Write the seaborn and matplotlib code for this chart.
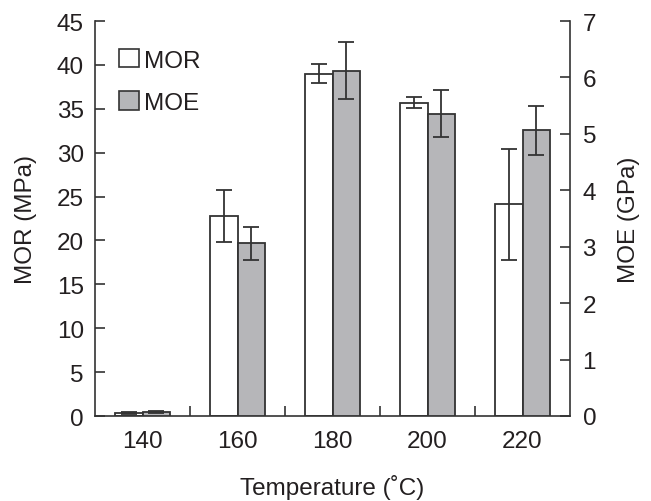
import numpy as np
import pandas as pd
import matplotlib
matplotlib.use("Agg")
import matplotlib.pyplot as plt
from matplotlib.patches import Patch
import seaborn as sns

temperatures = ["140", "160", "180", "200", "220"]
mor_values = [0.3, 22.8, 39.0, 35.7, 24.1]
mor_errors = [0.1, 3.0, 1.1, 0.6, 6.3]
moe_values = [0.07, 3.06, 6.12, 5.36, 5.06]
moe_errors = [0.02, 0.29, 0.50, 0.41, 0.43]
series = ["MOR", "MOE"]

sns.set_style("ticks")
plt.rcParams["font.family"] = ["Liberation Sans", "DejaVu Sans"]
TXT = "#231f20"
EDGE = "#333333"
GRAY = "#b5b6b9"
FS = 17.5

fig = plt.figure(figsize=(6.51, 5.02), dpi=100)
ax1 = fig.add_axes([95 / 651, 1 - 417 / 502, 475 / 651, 395 / 502])
ax2 = ax1.twinx()

df_mor = pd.DataFrame({"Temperature": temperatures, "value": mor_values, "series": "MOR"})
df_moe = pd.DataFrame({"Temperature": temperatures, "value": moe_values, "series": "MOE"})

palette = {"MOR": "white", "MOE": GRAY}
for ax, df, vals, errs in [(ax1, df_mor, mor_values, mor_errors),
                           (ax2, df_moe, moe_values, moe_errors)]:
    sns.barplot(data=df, x="Temperature", y="value", hue="series",
                hue_order=series, order=temperatures, palette=palette,
                width=0.58, dodge=True, errorbar=None, edgecolor=EDGE,
                linewidth=1.3, legend=False, ax=ax)
    bars = [p for p in ax.patches if p.get_height() > 0]
    xs = [b.get_x() + b.get_width() / 2 for b in bars]
    ax.errorbar(xs, vals, yerr=errs, fmt="none", ecolor=EDGE,
                elinewidth=1.3, capsize=6, capthick=1.3, zorder=5)

ax1.set_xlim(-0.5, 4.5)
ax1.set_ylim(0, 45)
ax2.set_ylim(0, 7)
ax1.set_yticks(np.arange(0, 46, 5))
ax2.set_yticks(np.arange(0, 8, 1))

for ax in (ax1, ax2):
    for s in ax.spines.values():
        s.set_color(EDGE)
        s.set_linewidth(1.2)
    ax.spines["top"].set_visible(False)

ax1.spines["right"].set_visible(False)
ax2.spines["left"].set_visible(False)
ax2.spines["bottom"].set_visible(False)

ax1.tick_params(axis="y", direction="in", length=7, width=1.2, color=EDGE,
                labelsize=FS, labelcolor=TXT, pad=8)
ax2.tick_params(axis="y", direction="in", length=7, width=1.2, color=EDGE,
                labelsize=FS, labelcolor=TXT, pad=9)
ax1.tick_params(axis="x", which="major", length=0, labelsize=FS,
                labelcolor=TXT, pad=10)
ax1.set_xticks([0.5, 1.5, 2.5, 3.5], minor=True)
ax1.tick_params(axis="x", which="minor", direction="in", length=7,
                width=1.2, color=EDGE)

ax1.set_xlabel("Temperature (˚C)", fontsize=FS, color=TXT, labelpad=16)
ax1.set_ylabel("MOR (MPa)", fontsize=FS, color=TXT, labelpad=14)
ax2.set_ylabel("MOE (GPa)", fontsize=FS, color=TXT, labelpad=16)

handles = [Patch(facecolor="white", edgecolor=EDGE, linewidth=1.2),
           Patch(facecolor=GRAY, edgecolor=EDGE, linewidth=1.2)]
ax2.legend(handles, series, loc="upper left", bbox_to_anchor=(0.005, 0.985),
           frameon=False, fontsize=FS, handlelength=0.8, handleheight=0.8,
           handletextpad=0.2, labelspacing=0.8, labelcolor=TXT)

fig.savefig("out.png", dpi=100)
